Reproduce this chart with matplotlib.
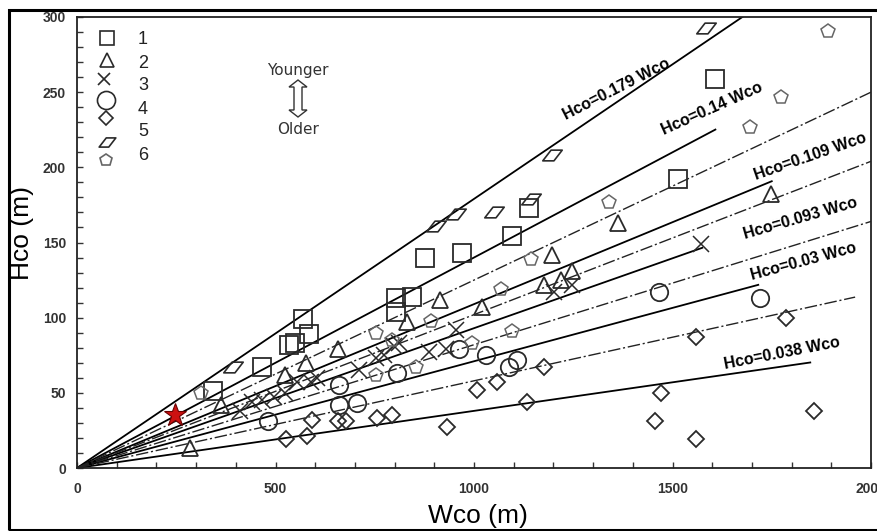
import numpy as np
import matplotlib.pyplot as plt
from matplotlib.path import Path
from matplotlib.patches import Polygon, Rectangle

# data (Wco, Hco in metres)
sq_w = [342, 467, 533, 548, 585, 570, 804, 844, 804, 877, 970, 1095, 1138, 1513, 1608]
sq_h = [51, 67, 82, 83, 89, 99, 113, 114, 104, 140, 143, 154, 173, 192, 259]

tri_w = [284, 363, 523, 578, 658, 832, 915, 1020, 1176, 1219, 1246, 1196, 1362, 1749]
tri_h = [13, 42, 62, 70, 79, 97, 112, 107, 122, 125, 131, 142, 163, 182]

x_w = [410, 442, 467, 497, 523, 553, 590, 605, 711, 754, 774, 799, 812, 887, 930, 955, 1201, 1246, 1573]
x_h = [38, 44, 45, 47, 50, 57, 57, 60, 65, 73, 75, 81, 83, 77, 79, 92, 117, 122, 149]

circ_w = [480, 661, 706, 661, 806, 962, 1030, 1088, 1108, 1465, 1721]
circ_h = [31, 42, 43, 55, 63, 79, 75, 67, 72, 117, 113]

dia_w = [527, 579, 591, 658, 678, 756, 794, 932, 1008, 1058, 1133, 1176, 1470, 1457, 1558, 1558, 1786, 1857]
dia_h = [19, 21, 32, 31, 31, 33, 35, 27, 52, 57, 44, 67, 50, 31, 19, 87, 100, 38]

par_w = [392, 904, 955, 1050, 1143, 1196, 1585]
par_h = [67, 161, 169, 170, 179, 208, 293]

pent_w = [312, 754, 754, 794, 854, 892, 995, 1068, 1095, 1143, 1339, 1696, 1774, 1892]
pent_h = [50, 62, 90, 85, 67, 98, 83, 119, 91, 139, 177, 227, 247, 291]

star_w = [248]
star_h = [35]

# fitted lines Hco = k * Wco
solid_k = [0.179, 0.14, 0.109, 0.093, 0.071, 0.038]
solid_end = [1700, 1608, 1750, 1575, 1716, 1847]
solid_labels = ['Hco=0.179 Wco', 'Hco=0.14 Wco', 'Hco=0.109 Wco',
                'Hco=0.093 Wco', 'Hco=0.03 Wco', 'Hco=0.038 Wco']
dash_k = [0.125, 0.102, 0.082, 0.058]
dash_end = [2000, 2000, 2000, 1960]

legend_nums = ['1', '2', '3', '4', '5', '6']

fig = plt.figure(figsize=(8.77, 5.31), dpi=100)
ax = fig.add_axes([77 / 877, 1 - 468 / 531, 794 / 877, 451 / 531])


def px2ax(px, py):
    return ((px - 77) / 794, (468 - py) / 451)


# lines through the origin
for k, xe in zip(solid_k, solid_end):
    ax.plot([0, xe], [0, k * xe], color='black', lw=1.3, zorder=2)
for k, xe in zip(dash_k, dash_end):
    ax.plot([0, xe], [0, k * xe], color='#222222', lw=1.0,
            linestyle=(0, (9, 2, 1.5, 2)), zorder=2)

# parallelogram marker
para = Path([(-1, -0.55), (0.15, -0.55), (1, 0.55), (-0.15, 0.55), (-1, -0.55)],
            [Path.MOVETO, Path.LINETO, Path.LINETO, Path.LINETO, Path.CLOSEPOLY])

ec = '#2a2a2a'
kw = dict(linestyle='none', mfc='none', zorder=3)
ax.plot(sq_w, sq_h, marker='s', ms=13, mec=ec, mew=1.3, **kw)
ax.plot(tri_w, tri_h, marker='^', ms=12, mec=ec, mew=1.3, **kw)
ax.plot(x_w, x_h, marker='x', ms=11, mec=ec, mew=1.1, **kw)
ax.plot(circ_w, circ_h, marker='o', ms=12.5, mec=ec, mew=1.3, **kw)
ax.plot(dia_w, dia_h, marker='D', ms=8.5, mec=ec, mew=1.3, **kw)
ax.plot(par_w, par_h, marker=para, ms=14, mec=ec, mew=1.2, **kw)
ax.plot(pent_w, pent_h, marker='p', ms=10, mec='#666666', mew=1.1, **kw)
ax.plot(star_w, star_h, marker='*', ms=17, mfc='#cc1111', mec='#6a0000',
        mew=0.8, linestyle='none', zorder=4)

# line labels
lab_pos = [(1360, 252), (1600, 239), (1846, 207), (1821, 166), (1829, 137), (1776, 76)]
lab_rot = [27, 24, 19, 16, 15, 11]
for txt, (lx, ly), r in zip(solid_labels, lab_pos, lab_rot):
    ax.text(lx, ly, txt, rotation=r, rotation_mode='anchor', ha='center', va='center',
            fontsize=11.5, fontweight='bold', family='Liberation Sans', zorder=5)

# legend block drawn by hand (symbols and numbers do not line up in the original)
sym_px = [(107, 38), (107, 60), (104, 79), (106, 100), (106, 118), (107, 142), (106, 160)]
sym_m = ['s', '^', 'x', 'o', 'D', para, 'p']
sym_ms = [10, 10, 9, 13, 7.5, 12, 9]
for (px, py), m, s in zip(sym_px, sym_m, sym_ms):
    xa, ya = px2ax(px, py)
    ax.plot([xa], [ya], marker=m, ms=s, mfc='none',
            mec='#666666' if m == 'p' else ec, mew=1.2,
            transform=ax.transAxes, clip_on=False)
num_py = [40, 63, 86, 110, 132, 155]
for t, py in zip(legend_nums, num_py):
    xa, ya = px2ax(143, py)
    ax.text(xa, ya, t, transform=ax.transAxes, ha='center', va='center',
            fontsize=13, family='Liberation Sans', color='#222222')

# Younger / Older arrow
xa, ya = px2ax(298, 70)
ax.text(xa, ya, 'Younger', transform=ax.transAxes, ha='center', va='center',
        fontsize=11, color='#333333')
xa, ya = px2ax(298, 129)
ax.text(xa, ya, 'Older', transform=ax.transAxes, ha='center', va='center',
        fontsize=11, color='#333333')
arrow_px = [(298, 80), (307, 87), (302, 87), (302, 110), (307, 110), (298, 117),
            (289, 110), (294, 110), (294, 87), (289, 87)]
ax.add_patch(Polygon([px2ax(px, py) for px, py in arrow_px], closed=True,
                     fill=False, ec='#333333', lw=1.0, transform=ax.transAxes,
                     clip_on=False))

ax.set_xlim(0, 2000)
ax.set_ylim(0, 300)
ax.set_xticks([0, 500, 1000, 1500, 2000])
ax.set_yticks([0, 50, 100, 150, 200, 250, 300])
ax.set_xticks(np.arange(0, 2001, 100), minor=True)
ax.set_yticks(np.arange(0, 301, 10), minor=True)
ax.tick_params(which='both', direction='in', length=4, width=1, color='#333333')
ax.tick_params(axis='x', pad=10)
ax.tick_params(axis='y', pad=8)
for lbl in ax.get_xticklabels() + ax.get_yticklabels():
    lbl.set_fontweight('bold')
    lbl.set_fontsize(10)
    lbl.set_color('#333333')
    lbl.set_family('Liberation Sans')
for sp in ax.spines.values():
    sp.set_linewidth(1.3)
    sp.set_color('#222222')

ax.set_xlabel('Wco (m)', fontsize=19, family='Liberation Sans')
ax.xaxis.set_label_coords(0.505, -0.08)
ax.set_ylabel('Hco (m)', fontsize=19, family='Liberation Sans')
ax.yaxis.set_label_coords(-0.054, 0.52)

# outer frame of the figure
fig.patches.append(Rectangle((9 / 877, 1 / 531), 880 / 877, 520 / 531, fill=False,
                             ec='black', lw=2.2, transform=fig.transFigure))

fig.savefig('out.png', dpi=100)
